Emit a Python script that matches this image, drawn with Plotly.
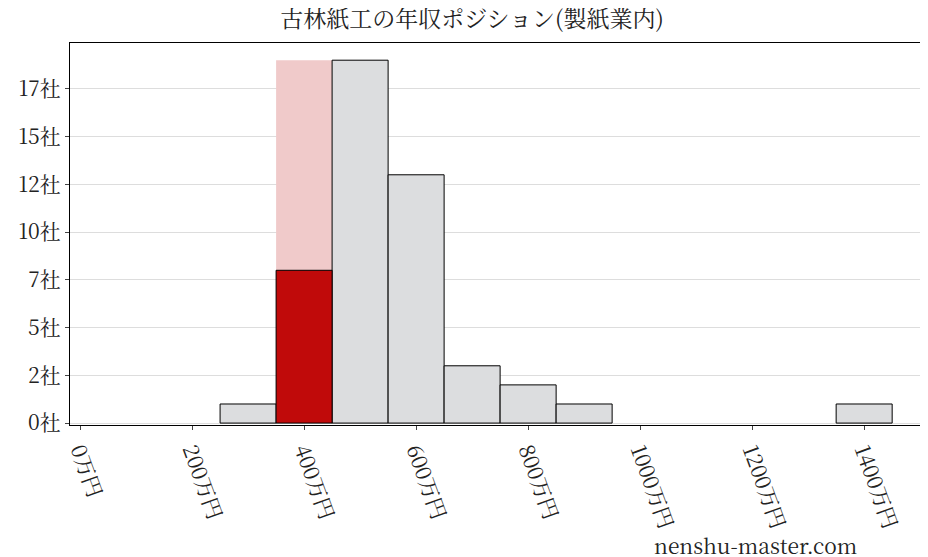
import plotly.graph_objects as go

bin_centers = [300, 400, 500, 600, 700, 800, 900, 1400]
counts = [1, 19, 19, 13, 3, 2, 1, 1]
highlight_center = [400]
highlight_count = [8]
yticks = [0, 2.5, 5, 7.5, 10, 12.5, 15, 17.5]
ylabels = ["0社", "2社", "5社", "7社", "10社", "12社", "15社", "17社"]
xticks = [0, 200, 400, 600, 800, 1000, 1200, 1400]
xlabels = ["0万円", "200万円", "400万円", "600万円", "800万円", "1000万円", "1200万円", "1400万円"]

colors = ["#dcdddf"] * len(counts)
colors[1] = "#f0caca"
edges = ["black"] * len(counts)
edges[1] = "rgba(0,0,0,0)"

fig = go.Figure()
fig.add_bar(x=bin_centers, y=counts, width=100, marker=dict(color=colors, line=dict(color=edges, width=1)))
fig.add_bar(x=highlight_center, y=highlight_count, width=100, marker=dict(color="#c00a0a", line=dict(color="black", width=1)))

font = "Noto Serif CJK JP, Noto Sans CJK JP, serif"
fig.update_layout(
    width=928, height=557, barmode="overlay", showlegend=False,
    plot_bgcolor="white", paper_bgcolor="white",
    margin=dict(l=62, r=8, t=35, b=140),
    font=dict(family=font, size=21, color="#222"),
    title=dict(text="古林紙工の年収ポジション(製紙業内)", x=0.5, xanchor="center", y=0.995, yanchor="top", font=dict(size=23)),
    xaxis=dict(range=[-18, 1514], tickvals=xticks, ticktext=xlabels, tickangle=70, automargin=False,
               showline=True, linecolor="black", mirror=True, ticks="outside", ticklen=4, showgrid=False, zeroline=False),
    yaxis=dict(range=[-0.1, 19.9], tickvals=yticks, ticktext=ylabels, automargin=False,
               showline=True, linecolor="black", mirror=True, ticks="outside", ticklen=4,
               showgrid=True, gridcolor="#dddddd", zeroline=False),
)
fig.add_annotation(text="nenshu-master.com", xref="paper", yref="paper", x=0.92, y=-0.315,
                   xanchor="right", yanchor="middle", showarrow=False, font=dict(size=21, color="#222"))
fig.write_html("out.html")
